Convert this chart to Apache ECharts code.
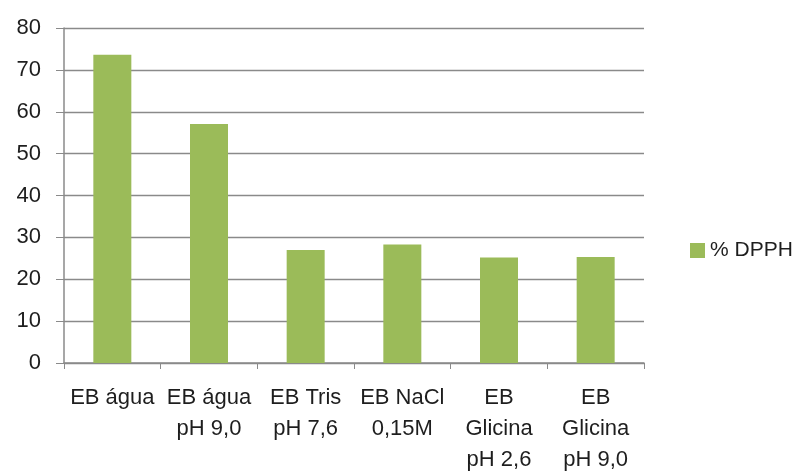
<!DOCTYPE html>
<html>
<head>
<meta charset="utf-8">
<script src="https://cdn.jsdelivr.net/npm/echarts@6/dist/echarts.min.js"></script>
<style>
  html, body { margin: 0; padding: 0; background: #ffffff; }
  #chart { width: 798px; height: 475px; }
</style>
</head>
<body>
<div id="chart"></div>
<script>
// Sample extracts (EB) and their DPPH radical scavenging activity
const categories = [
  'EB água',
  'EB água\npH 9,0',
  'EB Tris\npH 7,6',
  'EB NaCl\n0,15M',
  'EB\nGlicina\npH 2,6',
  'EB\nGlicina\npH 9,0'
];
const dpphValues = [73.6, 57.1, 27.0, 28.3, 25.2, 25.3];
const seriesName = '% DPPH';
const yMin = 0;
const yMax = 80;
const yStep = 10;

const font = '"Liberation Sans", Arial, Helvetica, sans-serif';
const textColor = '#1e1e1e';
const lineColor = '#8a8a8a';

const chart = echarts.init(document.getElementById('chart'), null, { renderer: 'canvas' });
chart.setOption({
  animation: false,
  backgroundColor: '#ffffff',
  grid: { left: 64, right: 154, top: 28, bottom: 111, containLabel: false },
  legend: {
    data: [seriesName],
    orient: 'vertical',
    left: 685,
    top: 235,
    itemWidth: 15,
    itemHeight: 15,
    itemGap: 6,
    icon: 'rect',
    textStyle: { fontFamily: font, fontSize: 21, color: textColor }
  },
  xAxis: {
    type: 'category',
    data: categories,
    boundaryGap: true,
    axisLine: { show: true, lineStyle: { color: lineColor, width: 1.5 } },
    axisTick: { show: true, alignWithLabel: false, length: 6, lineStyle: { color: lineColor } },
    axisLabel: {
      interval: 0,
      margin: 19,
      fontFamily: font,
      fontSize: 22,
      lineHeight: 31,
      color: textColor,
      align: 'center'
    },
    splitLine: { show: false }
  },
  yAxis: {
    type: 'value',
    min: yMin,
    max: yMax,
    interval: yStep,
    axisLine: { show: true, lineStyle: { color: lineColor, width: 1.5 } },
    axisTick: { show: true, length: 8, lineStyle: { color: lineColor } },
    axisLabel: {
      margin: 23,
      fontFamily: font,
      fontSize: 22,
      color: textColor
    },
    splitLine: { show: true, lineStyle: { color: lineColor, width: 1.3 } }
  },
  series: [{
    name: seriesName,
    type: 'bar',
    data: dpphValues,
    barWidth: 38,
    itemStyle: { color: '#9bbb59' }
  }]
});
</script>
</body>
</html>
